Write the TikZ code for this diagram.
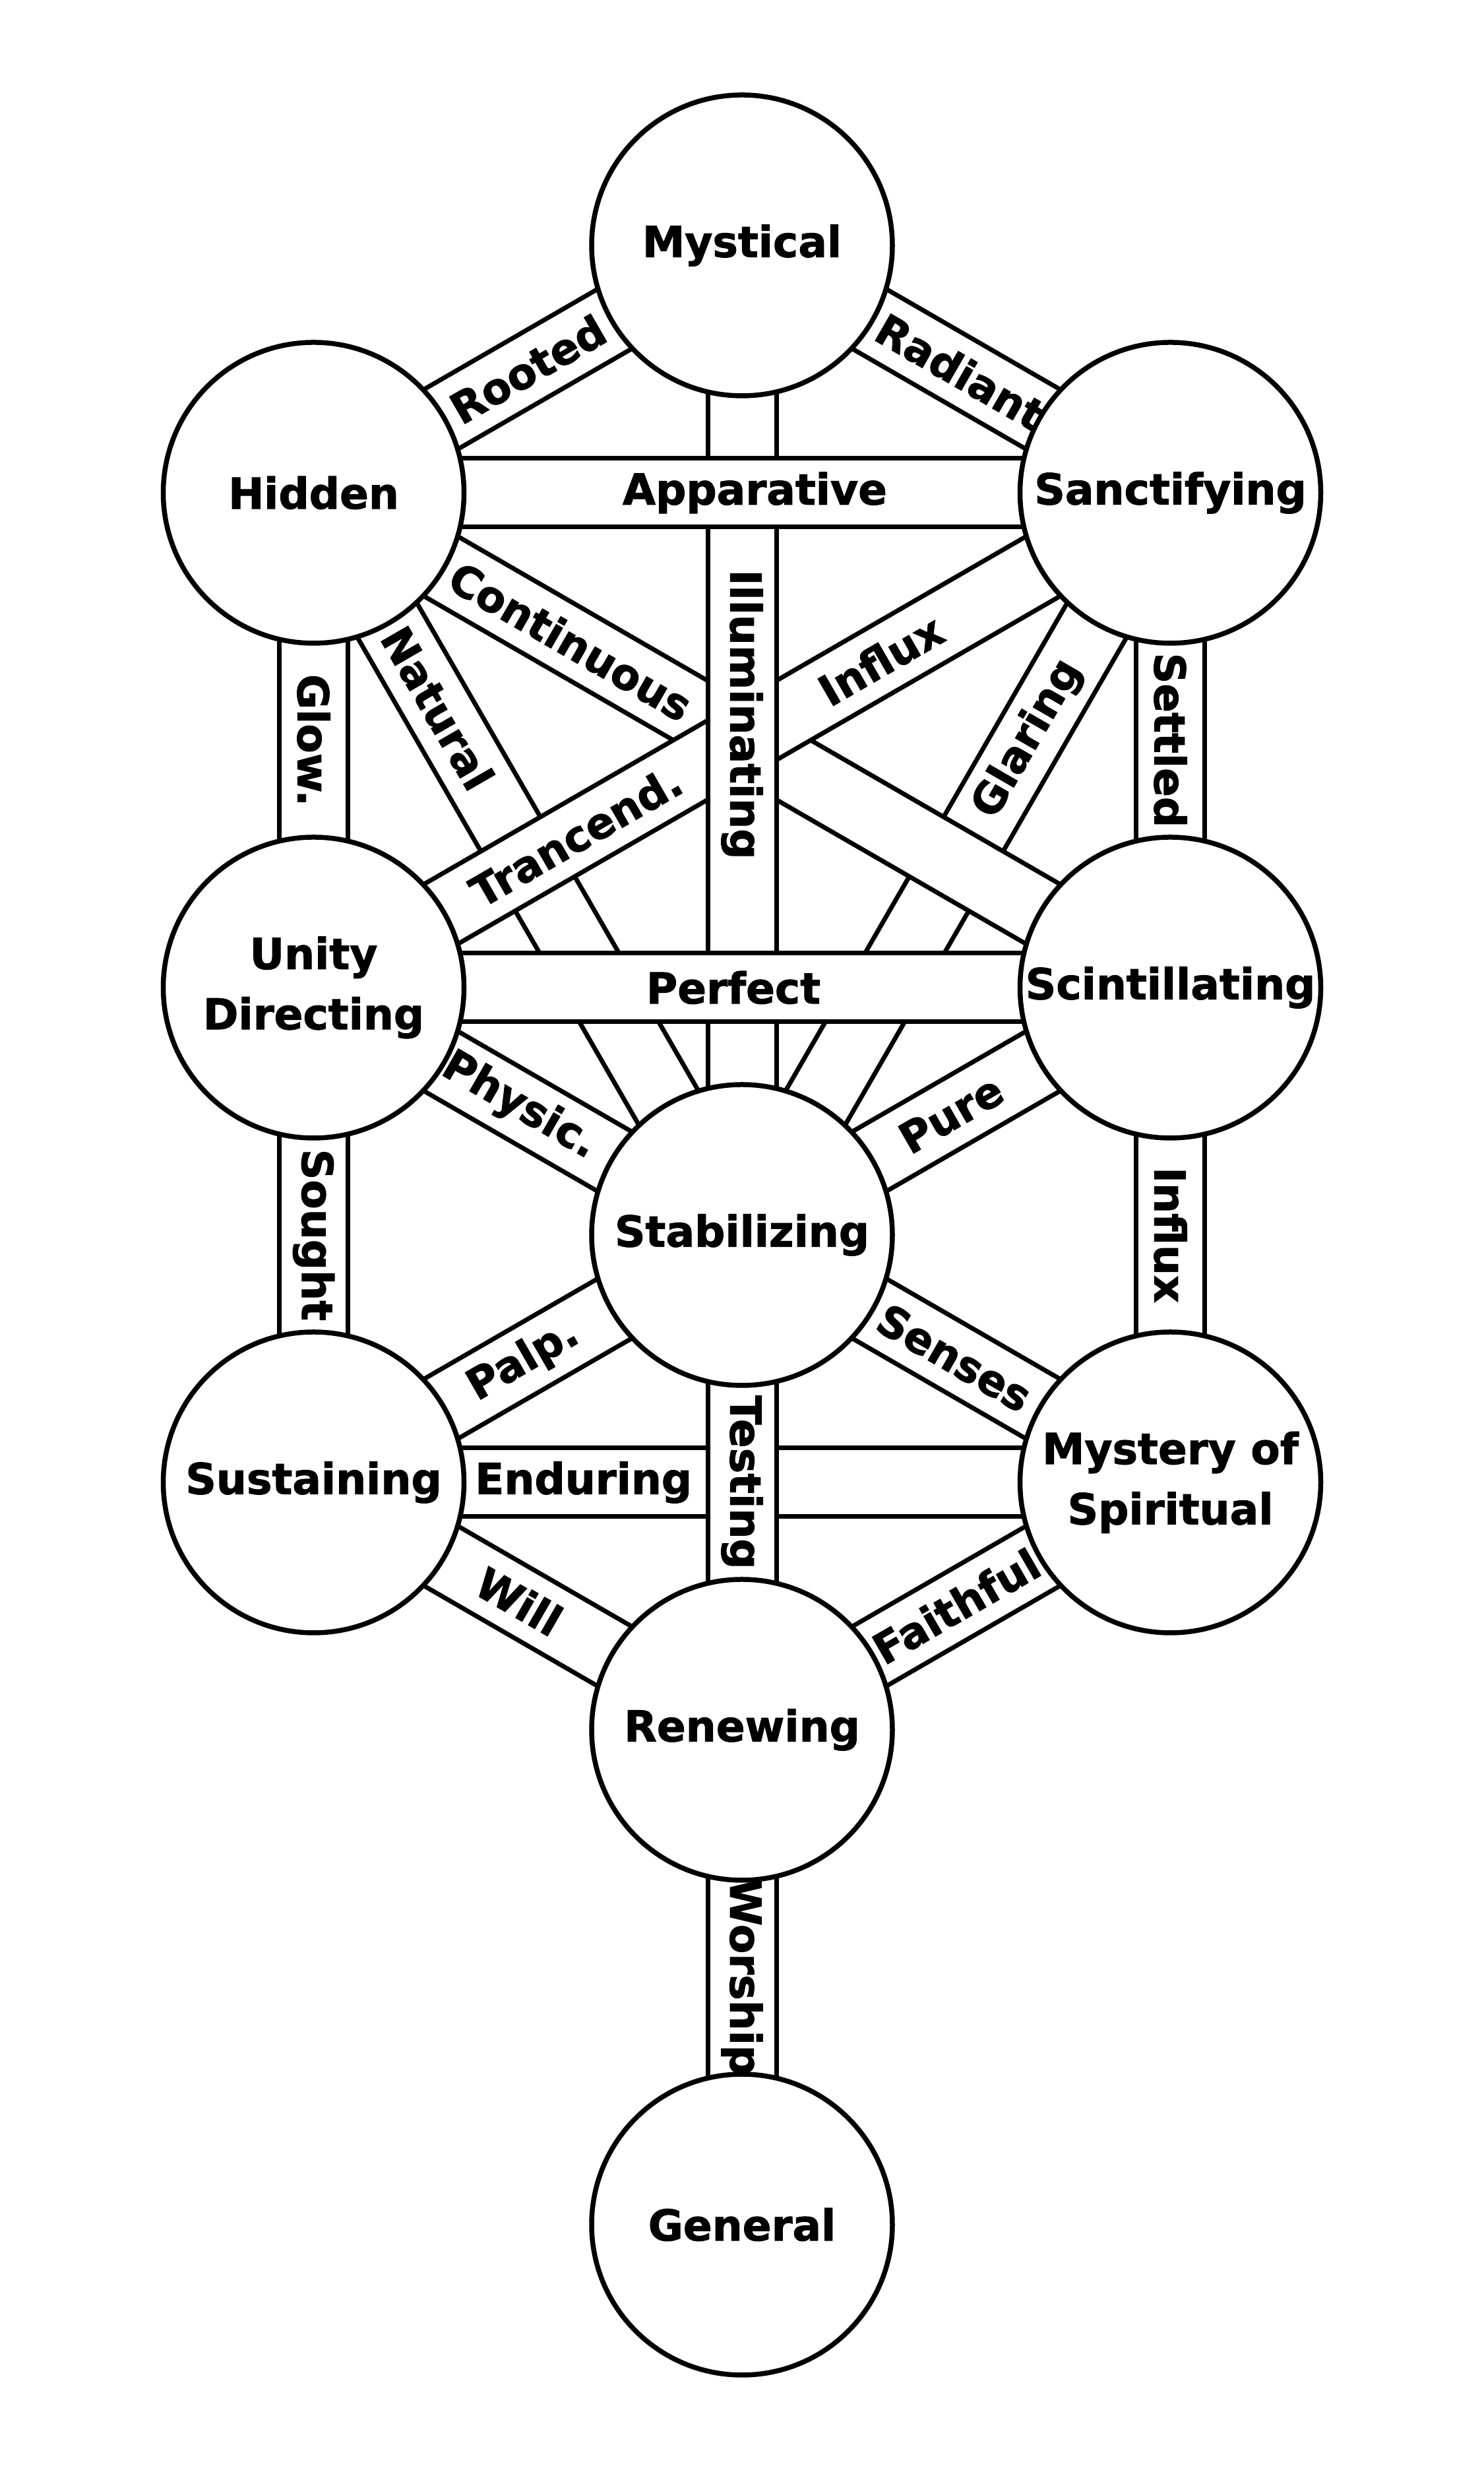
\documentclass[tikz,border=0pt]{standalone}
\usepackage{fontspec}
\newfontfamily\treefont{DejaVu Sans Bold}[FakeBold=1.5]
\usetikzlibrary{backgrounds}

\begin{document}
\begin{tikzpicture}[
  sephira/.style={circle, draw, line width=0.075cm, fill=white, minimum size=4.56cm, inner sep=0pt, align=center, font=\fontsize{18.4}{26}\selectfont\treefont},
  channel/.style={draw=black, line width=0.07cm, double=white, double distance=0.97cm},
  lbl/.style={sloped, inner sep=0pt, font=\fontsize{18.4}{22}\selectfont\treefont},
  vlbl/.style={rotate=-90, inner sep=0pt, font=\fontsize{18.4}{22}\selectfont\treefont}
]
\useasboundingbox (0,0) rectangle (22.5,37.5);
\node[sephira] (n0) at (11.25,33.78) {Mystical};
\node[sephira] (n1) at (4.755,30.03) {Hidden};
\node[sephira] (n2) at (17.745,30.03) {Sanctifying};
\node[sephira] (n3) at (4.755,22.53) {Unity\\Directing};
\node[sephira] (n4) at (17.745,22.53) {Scintillating};
\node[sephira] (n5) at (11.25,18.78) {Stabilizing};
\node[sephira] (n6) at (4.755,15.03) {Sustaining};
\node[sephira] (n7) at (17.745,15.03) {Mystery of\\Spiritual};
\node[sephira] (n8) at (11.25,11.28) {Renewing};
\node[sephira] (n9) at (11.25,3.78) {General};
\begin{scope}[on background layer]
\draw[channel] (n1.center) -- node[lbl, pos=0.29] {Natural} (n5.center);
\draw[channel] (n5.center) -- node[lbl, pos=0.668] {Glaring} (n2.center);
\draw[channel] (n1.center) -- node[lbl, pos=0.30] {Continuous} (n4.center);
\draw[channel] (n3.center) -- node[lbl, pos=0.306] {Trancend.} node[lbl, pos=0.662] {Influx} (n2.center);
\draw[channel] (n0.center) -- node[vlbl, pos=0.474] {Illuminating} (n5.center);
\draw[channel] (n1.center) -- node[lbl, pos=0.515] {Apparative} (n2.center);
\draw[channel] (n3.center) -- node[lbl, pos=0.49] {Perfect} (n4.center);
\draw[channel] (n1.center) -- node[lbl] {Rooted} (n0.center);
\draw[channel] (n0.center) -- node[lbl, pos=0.51] {Radiant} (n2.center);
\draw[channel] (n1.center) -- node[vlbl] {Glow.} (n3.center);
\draw[channel] (n2.center) -- node[vlbl] {Settled} (n4.center);
\draw[channel] (n3.center) -- node[lbl, pos=0.48] {Physic.} (n5.center);
\draw[channel] (n5.center) -- node[lbl, pos=0.488] {Pure} (n4.center);
\draw[channel] (n3.center) -- node[vlbl] {Sought} (n6.center);
\draw[channel] (n4.center) -- node[vlbl] {Influx} (n7.center);
\draw[channel] (n6.center) -- node[lbl, pos=0.49] {Palp.} (n5.center);
\draw[channel] (n5.center) -- node[lbl, pos=0.496] {Senses} (n7.center);
\draw[channel] (n6.center) -- node[lbl, pos=0.315] {Enduring} (n7.center);
\draw[channel] (n5.center) -- node[vlbl] {Testing} (n8.center);
\draw[channel] (n6.center) -- node[lbl, pos=0.48] {Will} (n8.center);
\draw[channel] (n8.center) -- node[lbl] {Faithful} (n7.center);
\draw[channel] (n8.center) -- node[vlbl] {Worship} (n9.center);
\end{scope}
\end{tikzpicture}
\end{document}
